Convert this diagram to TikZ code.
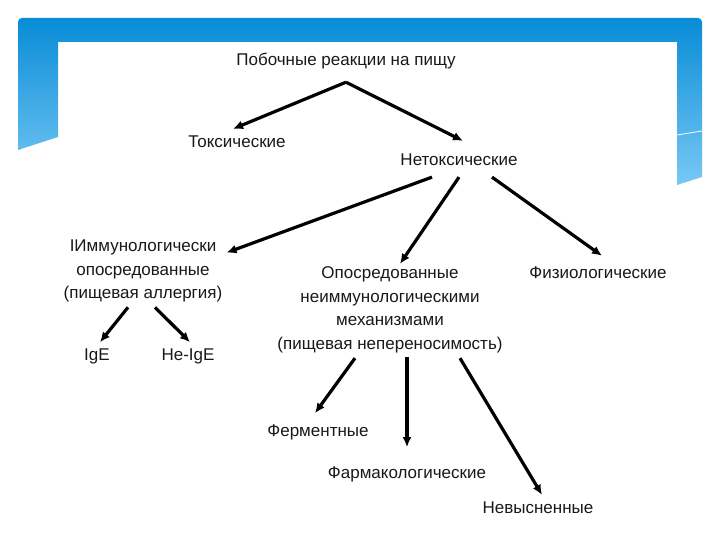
\documentclass[tikz,border=0pt]{standalone}
\usepackage{fontspec}
\setmainfont{Liberation Sans}
\usetikzlibrary{arrows.meta}

\definecolor{bandtop}{RGB}{8,140,214}
\definecolor{bandbot}{RGB}{120,200,245}
\definecolor{txt}{RGB}{25,25,25}

\tikzset{
  lbl/.style={text=txt, align=center, inner sep=1pt,
    font=\fontsize{17}{23.5}\selectfont},
  arr/.style={line width=3.2pt, -{Latex[length=10pt,width=9pt]}}
}

\begin{document}
\begin{tikzpicture}[x=1pt,y=-1pt]
  \useasboundingbox[fill=white] (0,0) rectangle (720,540);
  % blue frame of the slide
  \shade[top color=bandtop, bottom color=bandbot, rounded corners=4pt]
    (18,150) -- (18,18) -- (702,18) [sharp corners] -- (702,177) -- (677,185)
    -- (677,42) -- (58,42) -- (58,137) -- cycle;
  \draw[white, line width=0.8pt] (677,135) -- (702,131);

  % nodes
  \node[lbl] (root) at (346,61) {Побочные реакции на пищу};
  \node[lbl] (tox) at (237,142) {Токсические};
  \node[lbl] (nontox) at (459,160) {Нетоксические};
  \node[lbl] (immun) at (143,271) {IИммунологически\\опосредованные\\(пищевая аллергия)};
  \node[lbl] (phys) at (598,273) {Физиологические};
  \node[lbl] (nonimmun) at (390,310) {Опосредованные\\неиммунологическими\\механизмами\\(пищевая непереносимость)};
  \node[lbl] (ige) at (97,356) {IgE};
  \node[lbl] (nonige) at (188,356) {Не-IgE};
  \node[lbl] (ferm) at (318,432) {Ферментные};
  \node[lbl] (pharm) at (407,474) {Фармакологические};
  \node[lbl] (unexpl) at (538,508) {Невысненные};

  % arrows
  \draw[arr] ([yshift=-12pt]root.south) -- ([xshift=-4pt,yshift=6pt]tox.north);
  \draw[arr] ([yshift=-12pt]root.south) -- ([xshift=4pt,yshift=12pt]nontox.north);
  \draw[arr] ([xshift=-27pt,yshift=-10pt]nontox.south) -- ([xshift=3pt,yshift=-14pt]immun.north east);
  \draw[arr] ([yshift=-10pt]nontox.south) -- ([xshift=10pt,yshift=2pt]nonimmun.north);
  \draw[arr] ([xshift=33pt,yshift=-10pt]nontox.south) -- ([xshift=4pt,yshift=10pt]phys.north);
  \draw[arr] ([xshift=-15pt,yshift=-4pt]immun.south) -- ([xshift=3pt,yshift=5pt]ige.north);
  \draw[arr] ([xshift=12pt,yshift=-4pt]immun.south) -- ([xshift=2pt,yshift=5pt]nonige.north);
  \draw[arr] ([xshift=-35pt,yshift=-4pt]nonimmun.south) -- ([xshift=-3pt,yshift=10pt]ferm.north);
  \draw[arr] ([xshift=17pt,yshift=-3pt]nonimmun.south) -- ([yshift=18pt]pharm.north);
  \draw[arr] ([xshift=70pt,yshift=-4pt]nonimmun.south) -- ([xshift=4pt,yshift=6pt]unexpl.north);
\end{tikzpicture}
\end{document}
